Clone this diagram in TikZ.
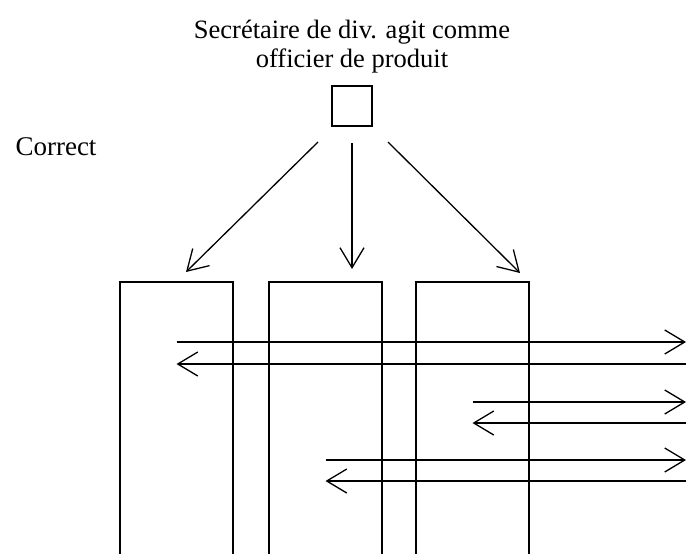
\documentclass[tikz,border=0pt]{standalone}
\usepackage{fontspec}
\setmainfont{Liberation Serif}
\usetikzlibrary{arrows.meta}

\begin{document}
\begin{tikzpicture}[
    x=1pt, y=-1pt,
    every node/.style={font=\fontsize{26.5}{29}\selectfont},
    chef/.style={draw, line width=2pt, minimum size=40pt, inner sep=0pt},
    unit/.style={draw, line width=2pt, minimum width=113pt, minimum height=330pt,
      anchor=north, inner sep=0pt, outer sep=0pt},
    flow/.style={line width=1.3pt, -{Straight Barb[length=20pt,width=24pt]}}
  ]
  \clip (0,0) rectangle (686,554);

  \node[align=center, anchor=base] (title) at (352,67) {Secrétaire de div. agit comme\\officier de produit};
  \node[anchor=base west, font=\fontsize{27}{29}\selectfont] (correct) at (12,155) {Correct};

  \node[chef] (sec) at (352,106) {};
  \node[unit] (b1) at (176.5,282) {};
  \node[unit] (b2) at (325.5,282) {};
  \node[unit] (b3) at (472.5,282) {};
  \coordinate (out) at (686,0);

  % du secretaire vers les divisions
  \draw[flow] ([xshift=-34pt,yshift=-15pt]sec.south) -- ([xshift=9.5pt,yshift=10pt]b1.north);
  \draw[flow] ([yshift=-16pt]sec.south) -- ([xshift=26.5pt,yshift=13pt]b2.north);
  \draw[flow] ([xshift=36pt,yshift=-15pt]sec.south) -- ([xshift=47.5pt,yshift=9pt]b3.north);

  % echanges entre divisions
  \foreach \b/\u/\d in {b1/60/82, b3/120/141, b2/178/199} {
    \path ([yshift=-\u pt]\b.north) coordinate (s) ([yshift=-\d pt]\b.north) coordinate (r);
    \draw[flow] (s) -- (s -| out);
    \draw[flow] (r -| out) -- (r);
  }
\end{tikzpicture}
\end{document}
